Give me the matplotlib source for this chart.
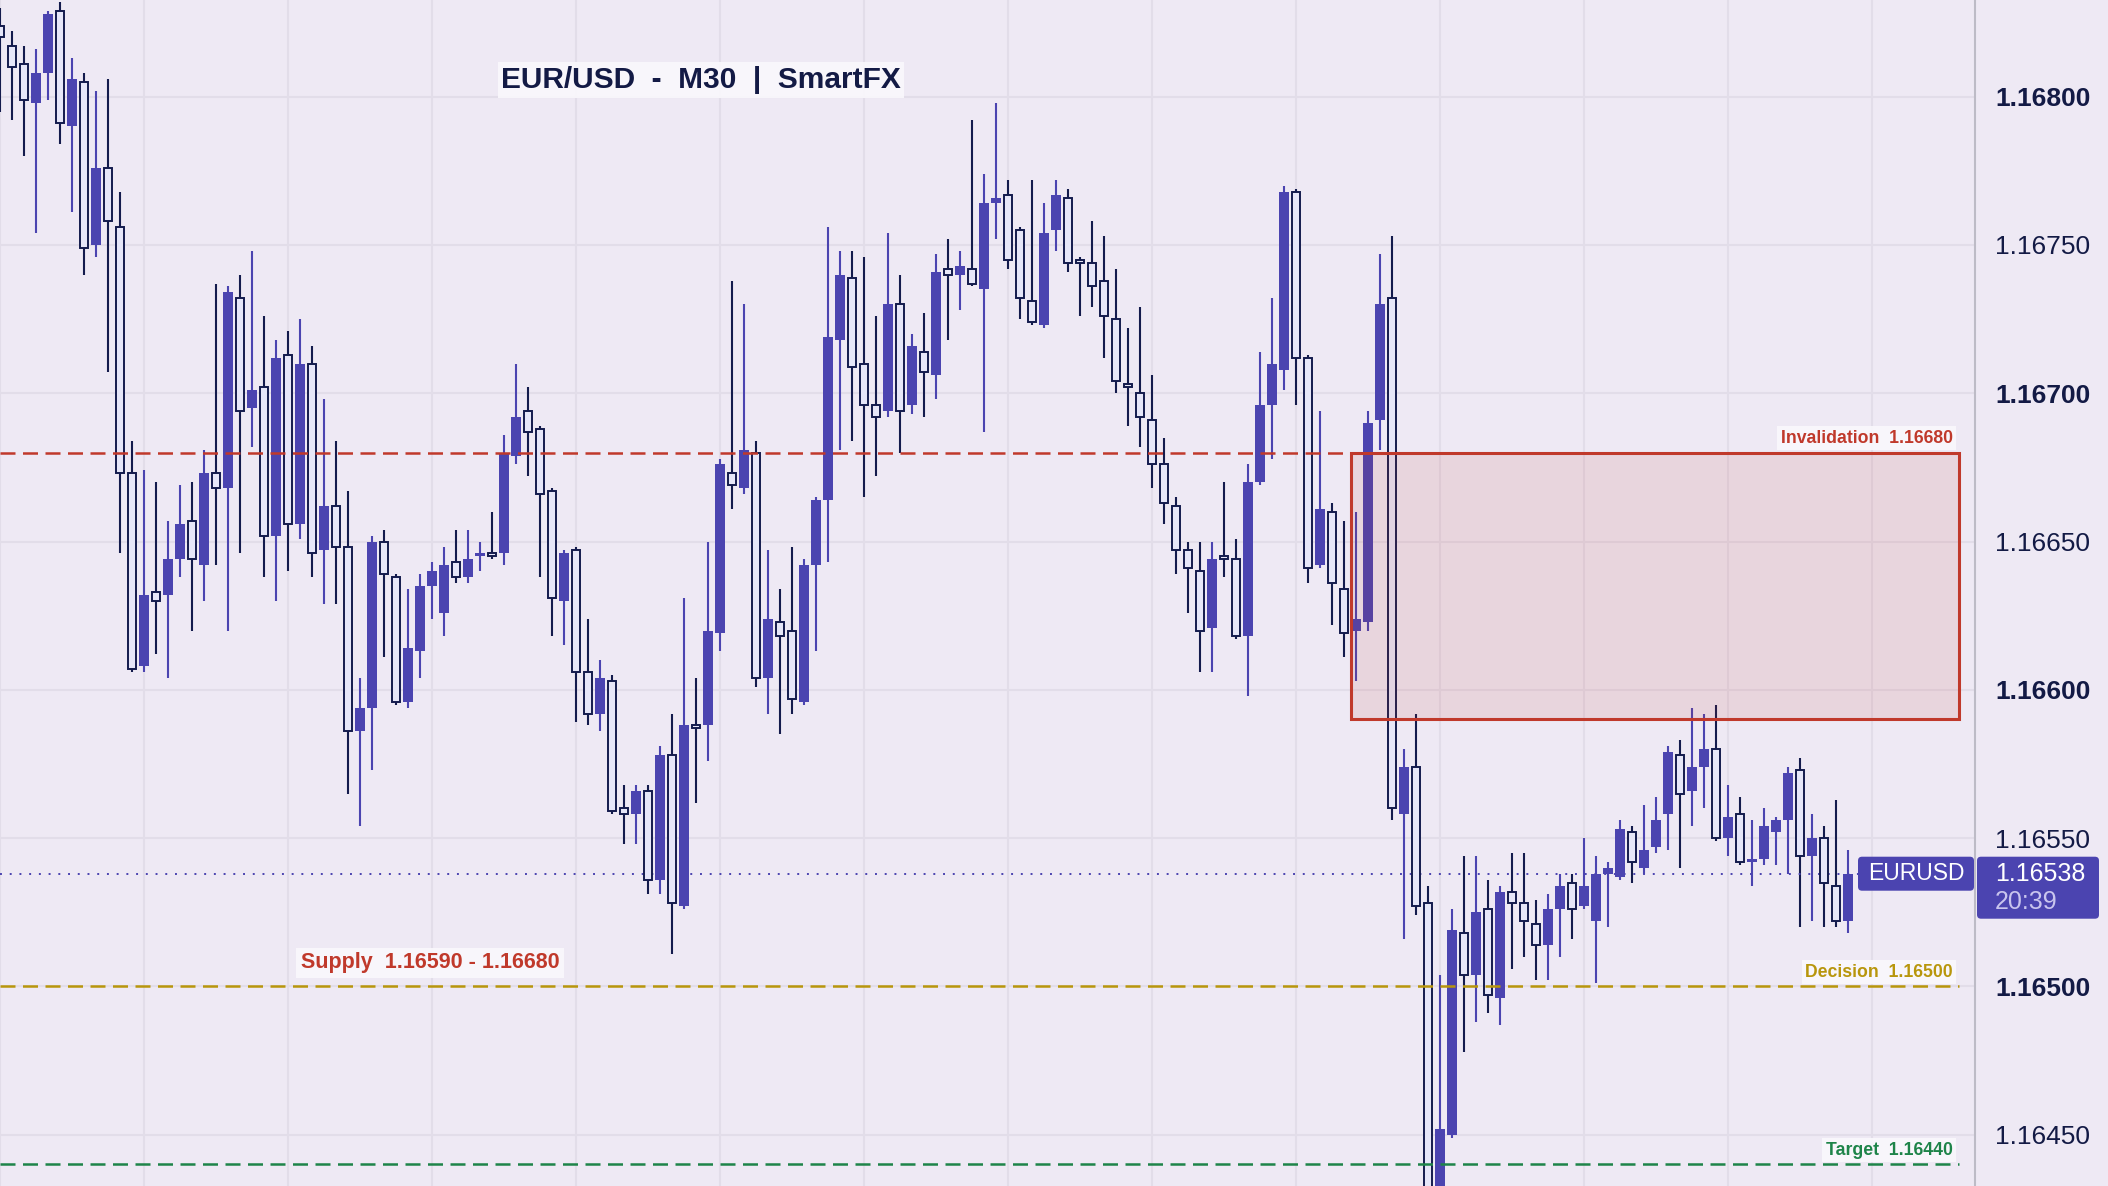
import numpy as np
import matplotlib.pyplot as plt
from matplotlib.patches import Rectangle, FancyBboxPatch
from matplotlib.transforms import IdentityTransform

plt.rcParams['font.family'] = ['Liberation Sans', 'DejaVu Sans']

## Candles (M30)
opens = [1.16824, 1.16817, 1.16811, 1.16798, 1.16808, 1.16829, 1.16790, 1.16805, 1.16750, 1.16776,
         1.16756, 1.16673, 1.16608, 1.16633, 1.16632, 1.16644, 1.16657, 1.16642, 1.16673, 1.16668,
         1.16732, 1.16695, 1.16702, 1.16652, 1.16713, 1.16656, 1.16710, 1.16647, 1.16662, 1.16648,
         1.16586, 1.16594, 1.16650, 1.16638, 1.16596, 1.16613, 1.16635, 1.16626, 1.16643, 1.16638,
         1.16645, 1.16646, 1.16646, 1.16679, 1.16694, 1.16688, 1.16667, 1.16630, 1.16647, 1.16606,
         1.16592, 1.16603, 1.16560, 1.16558, 1.16566, 1.16536, 1.16578, 1.16527, 1.16588, 1.16588,
         1.16619, 1.16673, 1.16668, 1.16680, 1.16604, 1.16623, 1.16620, 1.16596, 1.16642, 1.16664,
         1.16718, 1.16739, 1.16710, 1.16696, 1.16694, 1.16730, 1.16696, 1.16714, 1.16706, 1.16742,
         1.16740, 1.16742, 1.16735, 1.16764, 1.16767, 1.16755, 1.16731, 1.16723, 1.16755, 1.16766,
         1.16745, 1.16744, 1.16738, 1.16725, 1.16703, 1.16700, 1.16691, 1.16676, 1.16662, 1.16647,
         1.16640, 1.16621, 1.16645, 1.16644, 1.16618, 1.16670, 1.16696, 1.16708, 1.16768, 1.16712,
         1.16642, 1.16660, 1.16634, 1.16620, 1.16623, 1.16691, 1.16732, 1.16558, 1.16574, 1.16528,
         1.16418, 1.16450, 1.16518, 1.16504, 1.16526, 1.16496, 1.16532, 1.16528, 1.16521, 1.16514,
         1.16526, 1.16535, 1.16527, 1.16522, 1.16538, 1.16537, 1.16552, 1.16540, 1.16547, 1.16558,
         1.16578, 1.16566, 1.16574, 1.16580, 1.16550, 1.16558, 1.16542, 1.16543, 1.16552, 1.16556,
         1.16573, 1.16544, 1.16550, 1.16534, 1.16522]
highs = [1.16830, 1.16822, 1.16817, 1.16816, 1.16829, 1.16832, 1.16813, 1.16808, 1.16802, 1.16806,
         1.16768, 1.16684, 1.16674, 1.16670, 1.16657, 1.16669, 1.16670, 1.16681, 1.16737, 1.16736,
         1.16740, 1.16748, 1.16726, 1.16718, 1.16721, 1.16725, 1.16716, 1.16698, 1.16684, 1.16667,
         1.16604, 1.16652, 1.16654, 1.16639, 1.16634, 1.16639, 1.16643, 1.16648, 1.16654, 1.16654,
         1.16650, 1.16660, 1.16686, 1.16710, 1.16702, 1.16689, 1.16668, 1.16647, 1.16648, 1.16624,
         1.16610, 1.16605, 1.16568, 1.16568, 1.16568, 1.16581, 1.16592, 1.16631, 1.16604, 1.16650,
         1.16678, 1.16738, 1.16730, 1.16684, 1.16647, 1.16634, 1.16648, 1.16644, 1.16665, 1.16756,
         1.16748, 1.16748, 1.16746, 1.16726, 1.16754, 1.16740, 1.16720, 1.16727, 1.16747, 1.16752,
         1.16748, 1.16792, 1.16774, 1.16798, 1.16772, 1.16756, 1.16772, 1.16764, 1.16772, 1.16769,
         1.16746, 1.16758, 1.16753, 1.16742, 1.16722, 1.16729, 1.16706, 1.16685, 1.16665, 1.16650,
         1.16650, 1.16650, 1.16670, 1.16651, 1.16676, 1.16714, 1.16732, 1.16770, 1.16769, 1.16713,
         1.16694, 1.16663, 1.16657, 1.16660, 1.16694, 1.16747, 1.16753, 1.16580, 1.16592, 1.16534,
         1.16504, 1.16526, 1.16544, 1.16544, 1.16536, 1.16534, 1.16545, 1.16545, 1.16529, 1.16531,
         1.16538, 1.16538, 1.16550, 1.16544, 1.16542, 1.16556, 1.16554, 1.16561, 1.16564, 1.16581,
         1.16583, 1.16594, 1.16592, 1.16595, 1.16568, 1.16564, 1.16556, 1.16560, 1.16557, 1.16574,
         1.16577, 1.16558, 1.16554, 1.16563, 1.16546]
lows = [1.16795, 1.16792, 1.16780, 1.16754, 1.16799, 1.16784, 1.16761, 1.16740, 1.16746, 1.16707,
        1.16646, 1.16606, 1.16606, 1.16612, 1.16604, 1.16638, 1.16620, 1.16630, 1.16642, 1.16620,
        1.16646, 1.16682, 1.16638, 1.16630, 1.16640, 1.16651, 1.16638, 1.16629, 1.16629, 1.16565,
        1.16554, 1.16573, 1.16611, 1.16595, 1.16594, 1.16604, 1.16624, 1.16618, 1.16636, 1.16636,
        1.16640, 1.16644, 1.16642, 1.16676, 1.16672, 1.16638, 1.16618, 1.16615, 1.16589, 1.16588,
        1.16586, 1.16558, 1.16548, 1.16548, 1.16531, 1.16531, 1.16511, 1.16526, 1.16562, 1.16576,
        1.16613, 1.16661, 1.16666, 1.16601, 1.16592, 1.16585, 1.16592, 1.16595, 1.16613, 1.16643,
        1.16681, 1.16684, 1.16665, 1.16672, 1.16692, 1.16680, 1.16693, 1.16692, 1.16698, 1.16718,
        1.16728, 1.16736, 1.16687, 1.16752, 1.16742, 1.16725, 1.16723, 1.16722, 1.16748, 1.16741,
        1.16726, 1.16729, 1.16712, 1.16700, 1.16689, 1.16682, 1.16668, 1.16656, 1.16639, 1.16626,
        1.16606, 1.16606, 1.16638, 1.16617, 1.16598, 1.16669, 1.16678, 1.16701, 1.16696, 1.16636,
        1.16641, 1.16622, 1.16611, 1.16603, 1.16620, 1.16681, 1.16556, 1.16516, 1.16524, 1.16405,
        1.16400, 1.16449, 1.16478, 1.16488, 1.16491, 1.16487, 1.16506, 1.16510, 1.16502, 1.16502,
        1.16510, 1.16516, 1.16526, 1.16501, 1.16520, 1.16536, 1.16535, 1.16538, 1.16545, 1.16546,
        1.16540, 1.16554, 1.16560, 1.16549, 1.16544, 1.16541, 1.16534, 1.16541, 1.16541, 1.16538,
        1.16520, 1.16522, 1.16520, 1.16520, 1.16518]
closes = [1.16820, 1.16810, 1.16799, 1.16808, 1.16828, 1.16791, 1.16806, 1.16749, 1.16776, 1.16758,
          1.16673, 1.16607, 1.16632, 1.16630, 1.16644, 1.16656, 1.16644, 1.16673, 1.16668, 1.16734,
          1.16694, 1.16701, 1.16652, 1.16712, 1.16656, 1.16710, 1.16646, 1.16662, 1.16648, 1.16586,
          1.16594, 1.16650, 1.16639, 1.16596, 1.16614, 1.16635, 1.16640, 1.16642, 1.16638, 1.16644,
          1.16646, 1.16645, 1.16680, 1.16692, 1.16687, 1.16666, 1.16631, 1.16646, 1.16606, 1.16592,
          1.16604, 1.16559, 1.16558, 1.16566, 1.16536, 1.16578, 1.16528, 1.16588, 1.16587, 1.16620,
          1.16676, 1.16669, 1.16681, 1.16604, 1.16624, 1.16618, 1.16597, 1.16642, 1.16664, 1.16719,
          1.16740, 1.16709, 1.16696, 1.16692, 1.16730, 1.16694, 1.16716, 1.16707, 1.16741, 1.16740,
          1.16743, 1.16737, 1.16764, 1.16766, 1.16745, 1.16732, 1.16724, 1.16754, 1.16767, 1.16744,
          1.16744, 1.16736, 1.16726, 1.16704, 1.16702, 1.16692, 1.16676, 1.16663, 1.16647, 1.16641,
          1.16620, 1.16644, 1.16644, 1.16618, 1.16670, 1.16696, 1.16710, 1.16768, 1.16712, 1.16641,
          1.16661, 1.16636, 1.16619, 1.16624, 1.16690, 1.16730, 1.16560, 1.16574, 1.16527, 1.16418,
          1.16452, 1.16519, 1.16504, 1.16525, 1.16497, 1.16532, 1.16528, 1.16522, 1.16514, 1.16526,
          1.16534, 1.16526, 1.16534, 1.16538, 1.16540, 1.16553, 1.16542, 1.16546, 1.16556, 1.16579,
          1.16565, 1.16574, 1.16580, 1.16550, 1.16557, 1.16542, 1.16543, 1.16554, 1.16556, 1.16572,
          1.16544, 1.16550, 1.16535, 1.16522, 1.16538]

## Levels and labels
title = "EUR/USD  -  M30  |  SmartFX"
symbol = "EURUSD"
last_price = 1.16538
countdown = "20:39"
supply_low = 1.16590
supply_high = 1.16680
decision = 1.16500
target = 1.16440
zone_start = 112.6          # candle index where the supply box begins
y_ticks = [1.16450, 1.16500, 1.16550, 1.16600, 1.16650, 1.16700, 1.16750, 1.16800]

# Colours
BG = '#EEE9F4'
GRID = '#E2DDE9'
BULL = '#4B44B0'
BEAR_EDGE = '#141B4D'
BEAR_FILL = '#E6E6F8'
RED = '#C0392B'
GOLD = '#B8960C'
GREEN = '#1E8449'
NAVY = '#131A45'

W, H, DPI = 2108, 1186, 100
fig = plt.figure(figsize=(W / DPI, H / DPI), dpi=DPI, facecolor=BG)
ax = fig.add_axes([0, 0, 1975 / W, 1])
ax.set_facecolor(BG)

o = np.array(opens)
hi = np.array(highs)
lo = np.array(lows)
c = np.array(closes)
x = np.arange(len(o))
up = c >= o

# Wicks
ax.vlines(x[up], lo[up], hi[up], color=BULL, lw=1.5, zorder=2)
ax.vlines(x[~up], lo[~up], hi[~up], color=BEAR_EDGE, lw=1.5, zorder=2)
# Bodies
body_bot = np.minimum(o, c)
body_h = np.maximum(np.abs(c - o), 0.4e-5)
ax.bar(x[up], body_h[up], bottom=body_bot[up], width=0.8, color=BULL, lw=0, zorder=3)
ax.bar(x[~up], body_h[~up], bottom=body_bot[~up], width=0.68,
       facecolor=BEAR_FILL, edgecolor=BEAR_EDGE, lw=1.4, zorder=3)

x_end = 163.25
dash = (0, (6, 3))
ax.plot([0, x_end], [supply_high, supply_high], color=RED, lw=1.8, ls=dash, zorder=4)
ax.plot([0, x_end], [decision, decision], color=GOLD, lw=1.8, ls=dash, zorder=4)
ax.plot([0, x_end], [target, target], color=GREEN, lw=1.8, ls=dash, zorder=4)
ax.axhline(last_price, color=BULL, lw=1.4, ls=(0, (1, 4)), zorder=2.5)

# Supply zone
ax.add_patch(Rectangle((zone_start, supply_low), x_end - zone_start, supply_high - supply_low,
                       facecolor=(0.753, 0.224, 0.169, 0.11), edgecolor=RED, lw=2.2, zorder=5))

label_box = dict(boxstyle='square,pad=0.2', fc='#FAF8FC', ec='none', alpha=0.9)
for text, level, col in [("Invalidation  1.16680", supply_high, RED),
                         ("Decision  1.16500", decision, GOLD),
                         ("Target  1.16440", target, GREEN)]:
    ax.annotate(text, xy=(x_end, level), xytext=(-4.5, 7), textcoords='offset points',
                ha='right', va='baseline', color=col, fontsize=12.7, fontweight='bold',
                bbox=label_box, zorder=6)
ax.annotate("Supply  1.16590 - 1.16680", xy=(25.05, decision), xytext=(0, 13),
            textcoords='offset points', ha='left', va='baseline', color=RED,
            fontsize=15.5, fontweight='bold', bbox=label_box, zorder=6)

# Axes, grid, ticks
ax.set_xlim(0, 1975 / 12)
ax.set_ylim(1.164327, 1.168326)
ax.set_xticks(np.arange(0, 160, 12))
ax.set_yticks(y_ticks)
ax.grid(color=GRID, lw=1.5)
ax.set_axisbelow(True)
ax.tick_params(axis='x', length=0, labelbottom=False)
ax.yaxis.tick_right()
ax.tick_params(axis='y', length=0, pad=14.5, labelsize=19, labelcolor=NAVY)
ax.set_yticklabels([f"{v:.5f}" for v in y_ticks])
for v, lab in zip(y_ticks, ax.get_yticklabels()):
    if int(round(v * 1e5)) % 100 == 0:
        lab.set_fontweight('bold')
for s in ['top', 'left', 'bottom']:
    ax.spines[s].set_visible(False)
ax.spines['right'].set_color('#BDBBC6')
ax.spines['right'].set_linewidth(1.5)

# Title
fig.text(701 / W, 1 - 88 / H, title, ha='center', va='baseline', fontsize=21.5,
         fontweight='bold', color=NAVY,
         bbox=dict(boxstyle='square,pad=0.12', fc='#FAF8FC', ec='none', alpha=0.9))

# Price tag on the right
yp = ax.transData.transform((0, last_price))[1]
pix = IdentityTransform()
fig.add_artist(FancyBboxPatch((1858, yp - 17), 116, 34, boxstyle='round,pad=0,rounding_size=4',
                              fc=BULL, ec='none', transform=pix))
fig.add_artist(FancyBboxPatch((1977, yp - 45), 122, 62, boxstyle='round,pad=0,rounding_size=4',
                              fc=BULL, ec='none', transform=pix))
fig.text(1916, yp, symbol, transform=pix, ha='center', va='center', fontsize=16.5, color='white')
fig.text(1995, yp, f"{last_price:.5f}", transform=pix, ha='left', va='center',
         fontsize=18, color='white')
fig.text(1995, yp - 28, countdown, transform=pix, ha='left', va='center',
         fontsize=18, color='#C9C5EE')

fig.savefig("out.png", dpi=DPI, facecolor=BG)
